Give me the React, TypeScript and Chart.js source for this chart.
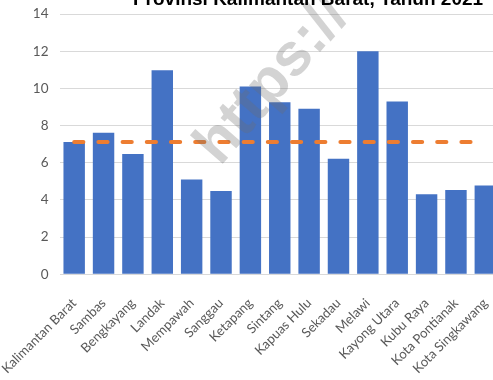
import React, { useEffect, useRef } from "react";
import { Chart, registerables } from "chart.js";

Chart.register(...registerables);

const categories = [
  "Kalimantan Barat",
  "Sambas",
  "Bengkayang",
  "Landak",
  "Mempawah",
  "Sanggau",
  "Ketapang",
  "Sintang",
  "Kapuas Hulu",
  "Sekadau",
  "Melawi",
  "Kayong Utara",
  "Kubu Raya",
  "Kota Pontianak",
  "Kota Singkawang",
];

const values = [7.12, 7.61, 6.47, 10.98, 5.1, 4.48, 10.1, 9.25, 8.9, 6.21, 12.0, 9.3, 4.3, 4.53, 4.78];

const provinceAverage = [7.12, 7.12, 7.12, 7.12, 7.12, 7.12, 7.12, 7.12, 7.12, 7.12, 7.12, 7.12, 7.12, 7.12, 7.12];

const yMin = 0;
const yMax = 14;
const yStep = 2;

const titleText = "Provinsi Kalimantan Barat, Tahun 2021";
const watermarkText = "https://";

const titlePlugin = {
  id: "croppedTitle",
  afterDraw(chart: any) {
    const ctx = chart.ctx;
    ctx.save();
    ctx.font = 'bold 19px "Liberation Sans", Arial, sans-serif';
    ctx.fillStyle = "#000000";
    ctx.textAlign = "center";
    ctx.textBaseline = "alphabetic";
    ctx.fillText(titleText, 308, 4.5);
    ctx.restore();
  },
};

const watermarkPlugin = {
  id: "watermark",
  afterDatasetsDraw(chart: any) {
    const ctx = chart.ctx;
    ctx.save();
    ctx.translate(220, 167);
    ctx.rotate((-49 * Math.PI) / 180);
    ctx.font = 'bold 60px "Liberation Sans", Arial, sans-serif';
    ctx.fillStyle = "rgba(110,110,110,0.3)";
    ctx.textAlign = "left";
    ctx.textBaseline = "alphabetic";
    ctx.fillText(watermarkText, 0, 0);
    ctx.restore();
  },
};

export default function App() {
  const ref = useRef<HTMLCanvasElement>(null);

  useEffect(() => {
    if (!ref.current) return;
    const chart = new Chart(ref.current, {
      type: "bar",
      data: {
        labels: categories,
        datasets: [
          {
            type: "line",
            label: "Kalimantan Barat",
            data: provinceAverage,
            borderColor: "#ED7D31",
            backgroundColor: "#ED7D31",
            borderWidth: 4,
            borderDash: [9.2, 15],
            borderCapStyle: "round",
            pointRadius: 0,
            fill: false,
            order: 0,
          } as any,
          {
            type: "bar",
            label: "Kabupaten/Kota",
            data: values,
            backgroundColor: "#4472C4",
            barPercentage: 0.73,
            categoryPercentage: 1,
            order: 1,
          },
        ],
      },
      options: {
        animation: false,
        responsive: false,
        events: [],
        layout: { padding: { left: 0, top: 14, right: 0, bottom: 0 } },
        plugins: {
          legend: { display: false },
          tooltip: { enabled: false },
          title: { display: false },
        },
        scales: {
          x: {
            grid: { display: false },
            border: { display: false },
            afterFit: (scale: any) => {
              scale.height = 105.7;
              scale.paddingLeft = 0;
              scale.paddingRight = 0;
            },
            ticks: {
              autoSkip: false,
              minRotation: 45,
              maxRotation: 45,
              color: "#595959",
              padding: 13,
              font: { size: 13.2, family: 'Lato, sans-serif' },
            },
          },
          y: {
            min: yMin,
            max: yMax,
            grid: { color: "#d9d9d9", drawTicks: false, lineWidth: 1 },
            border: { display: false },
            afterFit: (scale: any) => {
              scale.width = 59.5;
              scale.paddingTop = 0;
              scale.paddingBottom = 0;
            },
            ticks: {
              stepSize: yStep,
              color: "#595959",
              padding: 11,
              font: { size: 13.5, family: 'Lato, sans-serif' },
            },
          },
        },
      },
      plugins: [titlePlugin, watermarkPlugin],
    });
    return () => chart.destroy();
  }, []);

  return (
    <div
      style={{
        position: "fixed",
        left: 0,
        top: 0,
        width: 493,
        height: 380,
        overflow: "hidden",
        background: "#ffffff",
      }}
    >
      <canvas
        ref={ref}
        width={500}
        height={380}
        style={{ position: "absolute", left: 0, top: 0, display: "block" }}
      />
    </div>
  );
}
